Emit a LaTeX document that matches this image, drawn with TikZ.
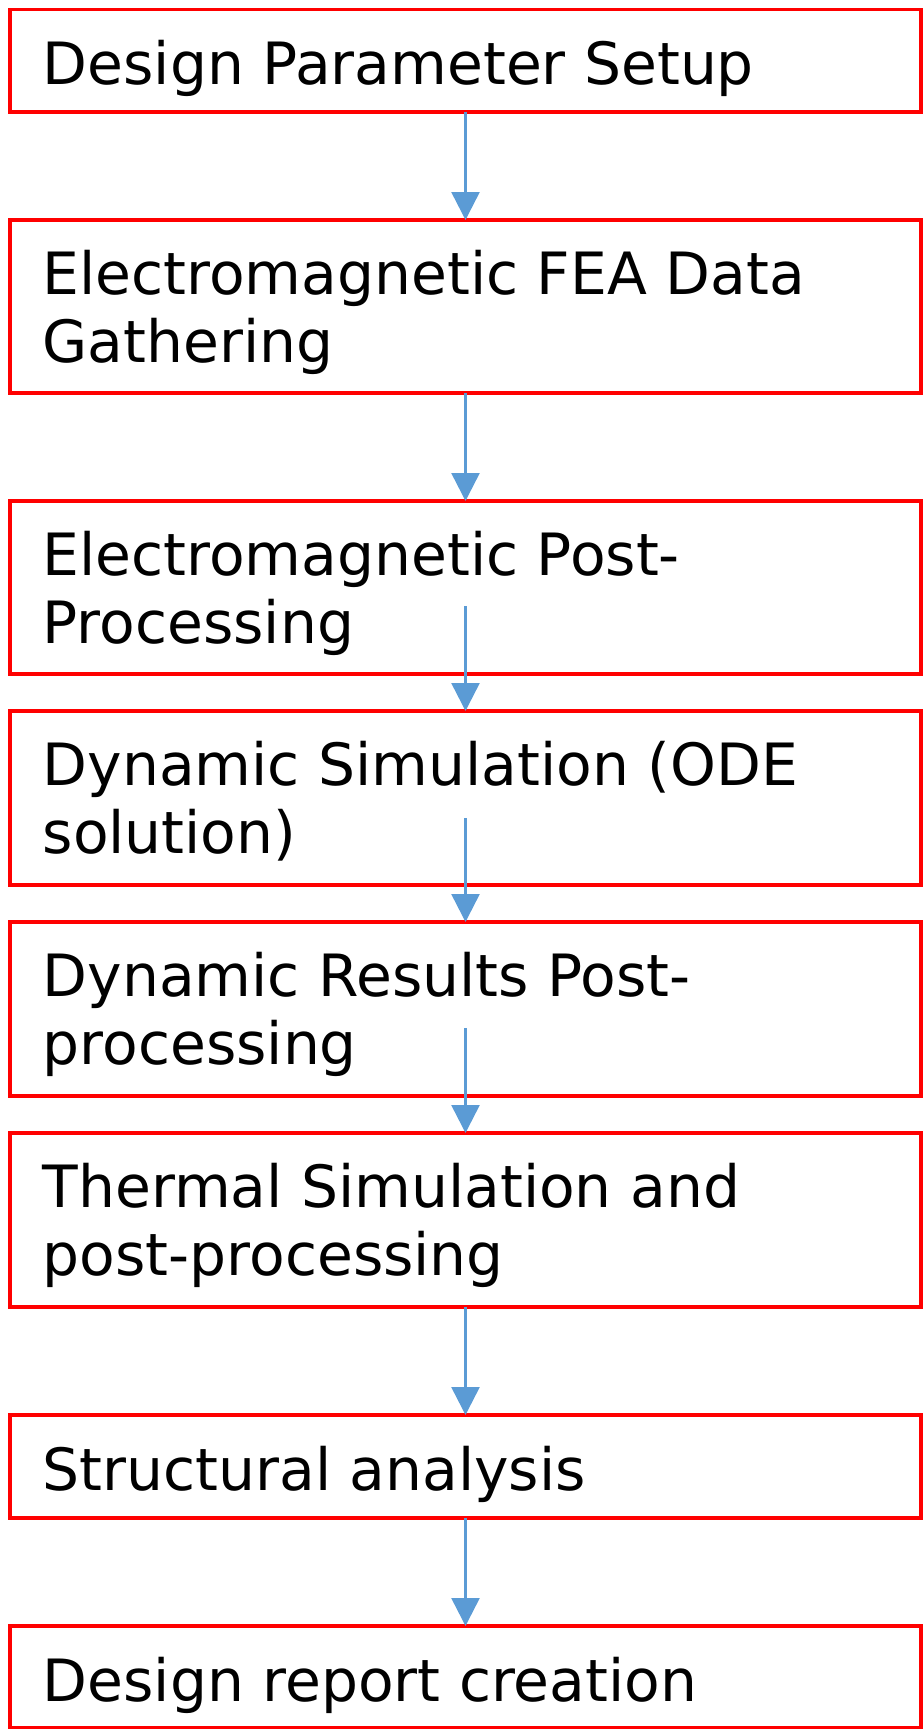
\documentclass[tikz,border=0pt]{standalone}
\usepackage{fontspec}
\setmainfont{DejaVu Sans}
\usetikzlibrary{arrows.meta}
\definecolor{boxred}{HTML}{FF0000}
\definecolor{arrblue}{HTML}{5B9BD5}
\tikzset{
  stepbox/.style={draw=boxred, line width=3.2pt, minimum width=911pt, inner sep=0pt, outer sep=0pt},
  steptext/.style={anchor=base west, inner sep=0pt, font=\fontsize{58.3}{68}\selectfont},
  flow/.style={draw=arrblue, line width=2.5pt, -{Triangle[width=28pt,length=28pt]}}
}
\begin{document}
\begin{tikzpicture}[x=1pt,y=-1pt]
\useasboundingbox (0,0) rectangle (923,1729);
\node[stepbox, minimum height=102.5pt] (b1) at (465.5,60.75) {};
\node[stepbox, minimum height=173pt] (b2) at (465.5,306.5) {};
\node[stepbox, minimum height=173pt] (b3) at (465.5,587.5) {};
\node[stepbox, minimum height=174pt] (b4) at (465.5,798) {};
\node[stepbox, minimum height=174pt] (b5) at (465.5,1009) {};
\node[stepbox, minimum height=174pt] (b6) at (465.5,1220) {};
\node[stepbox, minimum height=103pt] (b7) at (465.5,1466.5) {};
\node[stepbox, minimum height=102pt] (b8) at (465.5,1677) {};

\node[steptext] (t1) at (42.5,84) {Design Parameter Setup};
\node[steptext] (t2a) at (42.5,294) {Electromagnetic FEA Data};
\node[steptext] (t2b) at (42.5,362) {Gathering};
\node[steptext] (t3a) at (42.5,575) {Electromagnetic Post-};
\node[steptext] (t3b) at (42.5,643) {Processing};
\node[steptext] (t4a) at (42.5,785) {Dynamic Simulation (ODE};
\node[steptext] (t4b) at (42.5,853) {solution)};
\node[steptext] (t5a) at (42.5,996) {Dynamic Results Post-};
\node[steptext] (t5b) at (42.5,1064) {processing};
\node[steptext] (t6a) at (42.5,1207) {Thermal Simulation and};
\node[steptext] (t6b) at (42.5,1275) {post-processing};
\node[steptext] (t7) at (42.5,1490) {Structural analysis};
\node[steptext] (t8) at (42.5,1701) {Design report creation};

\coordinate (s3) at (465.5,606);
\coordinate (s4) at (465.5,818);
\coordinate (s5) at (465.5,1028);

\draw[flow] (b1.south) -- (b2.north);
\draw[flow] (b2.south) -- (b3.north);
\draw[flow] (s3) -- (b4.north);
\draw[flow] (s4) -- (b5.north);
\draw[flow] (s5) -- (b6.north);
\draw[flow] (b6.south) -- (b7.north);
\draw[flow] (b7.south) -- (b8.north);
\end{tikzpicture}
\end{document}
